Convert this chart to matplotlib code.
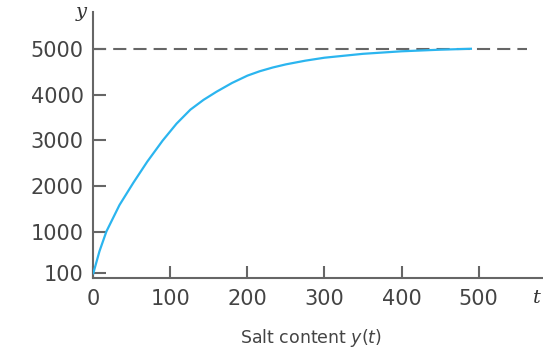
import numpy as np
import matplotlib
matplotlib.use("Agg")
import matplotlib.pyplot as plt

# salt content
t_vals = [0, 8, 17, 34, 52, 70, 90, 108, 126, 143, 160, 180, 200, 216, 233,
          250, 275, 300, 350, 400, 450, 490]
y_vals = [100, 580, 1012, 1590, 2076, 2535, 2995, 3364, 3670, 3883, 4062, 4252,
          4412, 4508, 4590, 4658, 4738, 4803, 4888, 4943, 4978, 4998]
y_limit = 5000
x_ticks = [0, 100, 200, 300, 400, 500]
y_ticks = [100, 1000, 2000, 3000, 4000, 5000]

fig = plt.figure(figsize=(5.43, 3.52), dpi=100)
ax = fig.add_axes([0.1718, 0.2105, 0.826, 0.7554])

ax.plot(t_vals, y_vals, color="#2bb5ef", lw=1.6, zorder=3)
ax.hlines(y_limit, 0, 563, colors="#666666", lw=1.5, linestyles=(0, (6.3, 3.4)), zorder=2)

ax.set_xlim(0, 582)
ax.set_ylim(0, 5800)
ax.set_xticks(x_ticks)
ax.set_yticks(y_ticks)

for s in ["top", "right"]:
    ax.spines[s].set_visible(False)
for s in ["left", "bottom"]:
    ax.spines[s].set_color("#666666")
    ax.spines[s].set_linewidth(1.5)

ax.tick_params(direction="in", length=9, width=1.5, color="#666666",
               labelsize=15, labelcolor="#444444")
ax.tick_params(axis="y", pad=7)
ax.tick_params(axis="x", pad=8)

ax.text(-0.027, 1.0, "y", transform=ax.transAxes, ha="center", va="center",
        fontsize=14, family="DejaVu Serif", style="italic", color="#333333")
fig.text(537 / 543, 1 - 298 / 352, "t", ha="center", va="center",
         fontsize=14, family="DejaVu Serif", style="italic", color="#333333")
fig.text(311 / 543, 1 - 343 / 352, r"Salt content $\mathit{y}(\mathit{t})$",
         ha="center", va="baseline", fontsize=12.5, color="#444444")

fig.savefig("out.png", dpi=100)
